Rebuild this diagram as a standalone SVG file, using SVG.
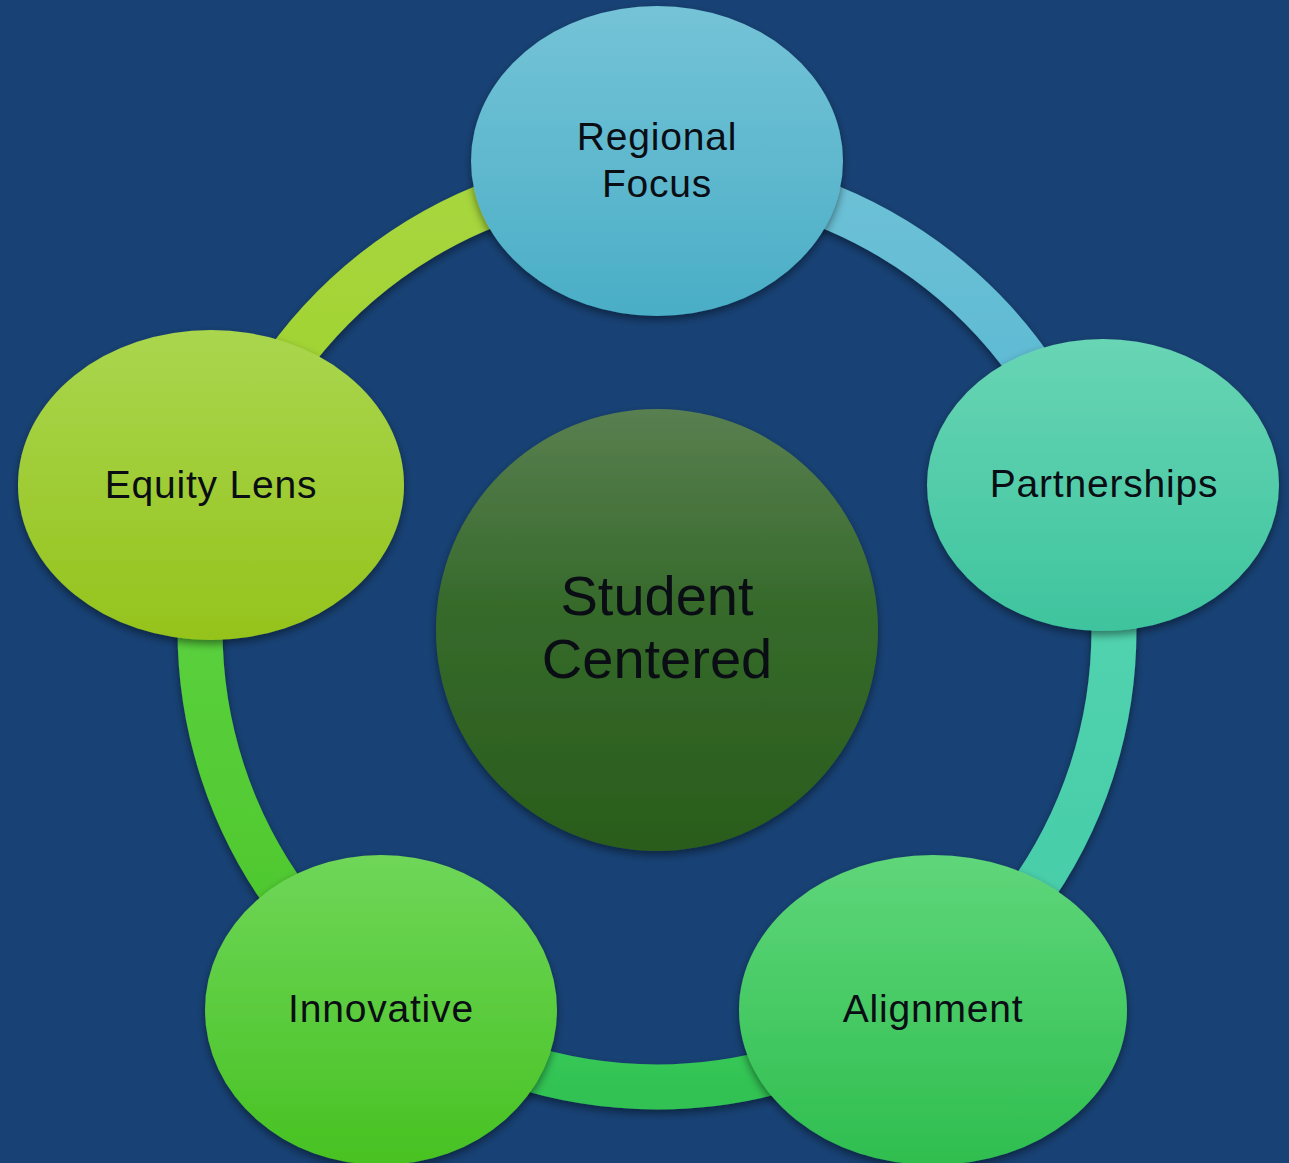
<svg xmlns="http://www.w3.org/2000/svg" width="1289" height="1163" viewBox="0 0 1289 1163">
  <style>
    .lbl { font-family: "Liberation Sans", Arial, sans-serif; font-size: 39px; fill: #0a0e14; text-anchor: middle; letter-spacing: 0.8px; }
    .ctr { font-family: "Liberation Sans", Arial, sans-serif; font-size: 56px; fill: #0a0e14; text-anchor: middle; }
    .arc { fill: none; stroke-width: 45; filter: url(#sh); }
    .node { filter: url(#sh); }
  </style>
  <defs>
    <filter id="sh" filterUnits="userSpaceOnUse" x="-100" y="-100" width="1500" height="1400">
      <feDropShadow dx="0" dy="4" stdDeviation="4" flood-color="#000" flood-opacity="0.45"/>
    </filter>
    <linearGradient id="gReg" x1="0" y1="0" x2="0" y2="1"><stop offset="0" stop-color="#75c3d7"/><stop offset="1" stop-color="#4aaec6"/></linearGradient>
    <linearGradient id="gPar" x1="0" y1="0" x2="0" y2="1"><stop offset="0" stop-color="#68d5b4"/><stop offset="1" stop-color="#3ec49e"/></linearGradient>
    <linearGradient id="gAli" x1="0" y1="0" x2="0" y2="1"><stop offset="0" stop-color="#5fd67a"/><stop offset="1" stop-color="#2fbe4f"/></linearGradient>
    <linearGradient id="gInn" x1="0" y1="0" x2="0" y2="1"><stop offset="0" stop-color="#6fd659"/><stop offset="1" stop-color="#47c222"/></linearGradient>
    <linearGradient id="gEqu" x1="0" y1="0" x2="0" y2="1"><stop offset="0" stop-color="#a9d64e"/><stop offset="1" stop-color="#95c31c"/></linearGradient>
    <linearGradient id="gCen" x1="0" y1="0" x2="0" y2="1"><stop offset="0" stop-color="#597f50"/><stop offset="0.45" stop-color="#366a2b"/><stop offset="1" stop-color="#2a5c1c"/></linearGradient>
    <linearGradient id="aReg" x1="0" y1="0" x2="0" y2="1"><stop offset="0" stop-color="#6ec1d6"/><stop offset="1" stop-color="#56b7d2"/></linearGradient>
    <linearGradient id="aPar" x1="0" y1="0" x2="0" y2="1"><stop offset="0" stop-color="#56d5b0"/><stop offset="1" stop-color="#44cba8"/></linearGradient>
    <linearGradient id="aAli" x1="0" y1="0" x2="0" y2="1"><stop offset="0" stop-color="#3ed162"/><stop offset="1" stop-color="#31c252"/></linearGradient>
    <linearGradient id="aInn" x1="0" y1="0" x2="0" y2="1"><stop offset="0" stop-color="#5fd444"/><stop offset="1" stop-color="#4cc62a"/></linearGradient>
    <linearGradient id="aEqu" x1="0" y1="0" x2="0" y2="1"><stop offset="0" stop-color="#a8d640"/><stop offset="1" stop-color="#9ed22a"/></linearGradient>
  </defs>
  <rect x="0" y="0" width="1289" height="1163" fill="#184275"/>
  <g id="connectors">
    <path class="arc" stroke="url(#aReg)" d="M 657 173 A 457 457 0 0 1 1091.6 488.8"/>
    <path class="arc" stroke="url(#aPar)" d="M 1091.6 488.8 A 457 457 0 0 1 925.6 999.7"/>
    <path class="arc" stroke="url(#aAli)" d="M 925.6 999.7 A 457 457 0 0 1 388.4 999.7"/>
    <path class="arc" stroke="url(#aInn)" d="M 388.4 999.7 A 457 457 0 0 1 222.4 488.8"/>
    <path class="arc" stroke="url(#aEqu)" d="M 222.4 488.8 A 457 457 0 0 1 657 173"/>
  </g>
  <g id="center">
    <circle class="node" cx="657" cy="630" r="221" fill="url(#gCen)"/>
    <text class="ctr" x="657" y="615">Student</text>
    <text class="ctr" x="657" y="678">Centered</text>
  </g>
  <g id="regional-focus">
    <ellipse class="node" cx="657" cy="161" rx="186" ry="155" fill="url(#gReg)"/>
    <text class="lbl" x="657" y="150">Regional</text>
    <text class="lbl" x="657" y="197">Focus</text>
  </g>
  <g id="partnerships">
    <ellipse class="node" cx="1103" cy="485" rx="176" ry="146" fill="url(#gPar)"/>
    <text class="lbl" x="1104" y="497">Partnerships</text>
  </g>
  <g id="alignment">
    <ellipse class="node" cx="933" cy="1010" rx="194" ry="155" fill="url(#gAli)"/>
    <text class="lbl" x="933" y="1022">Alignment</text>
  </g>
  <g id="innovative">
    <ellipse class="node" cx="381" cy="1010" rx="176" ry="155" fill="url(#gInn)"/>
    <text class="lbl" x="381" y="1022">Innovative</text>
  </g>
  <g id="equity-lens">
    <ellipse class="node" cx="211" cy="485" rx="193" ry="155" fill="url(#gEqu)"/>
    <text class="lbl" x="211" y="498">Equity Lens</text>
  </g>
</svg>
